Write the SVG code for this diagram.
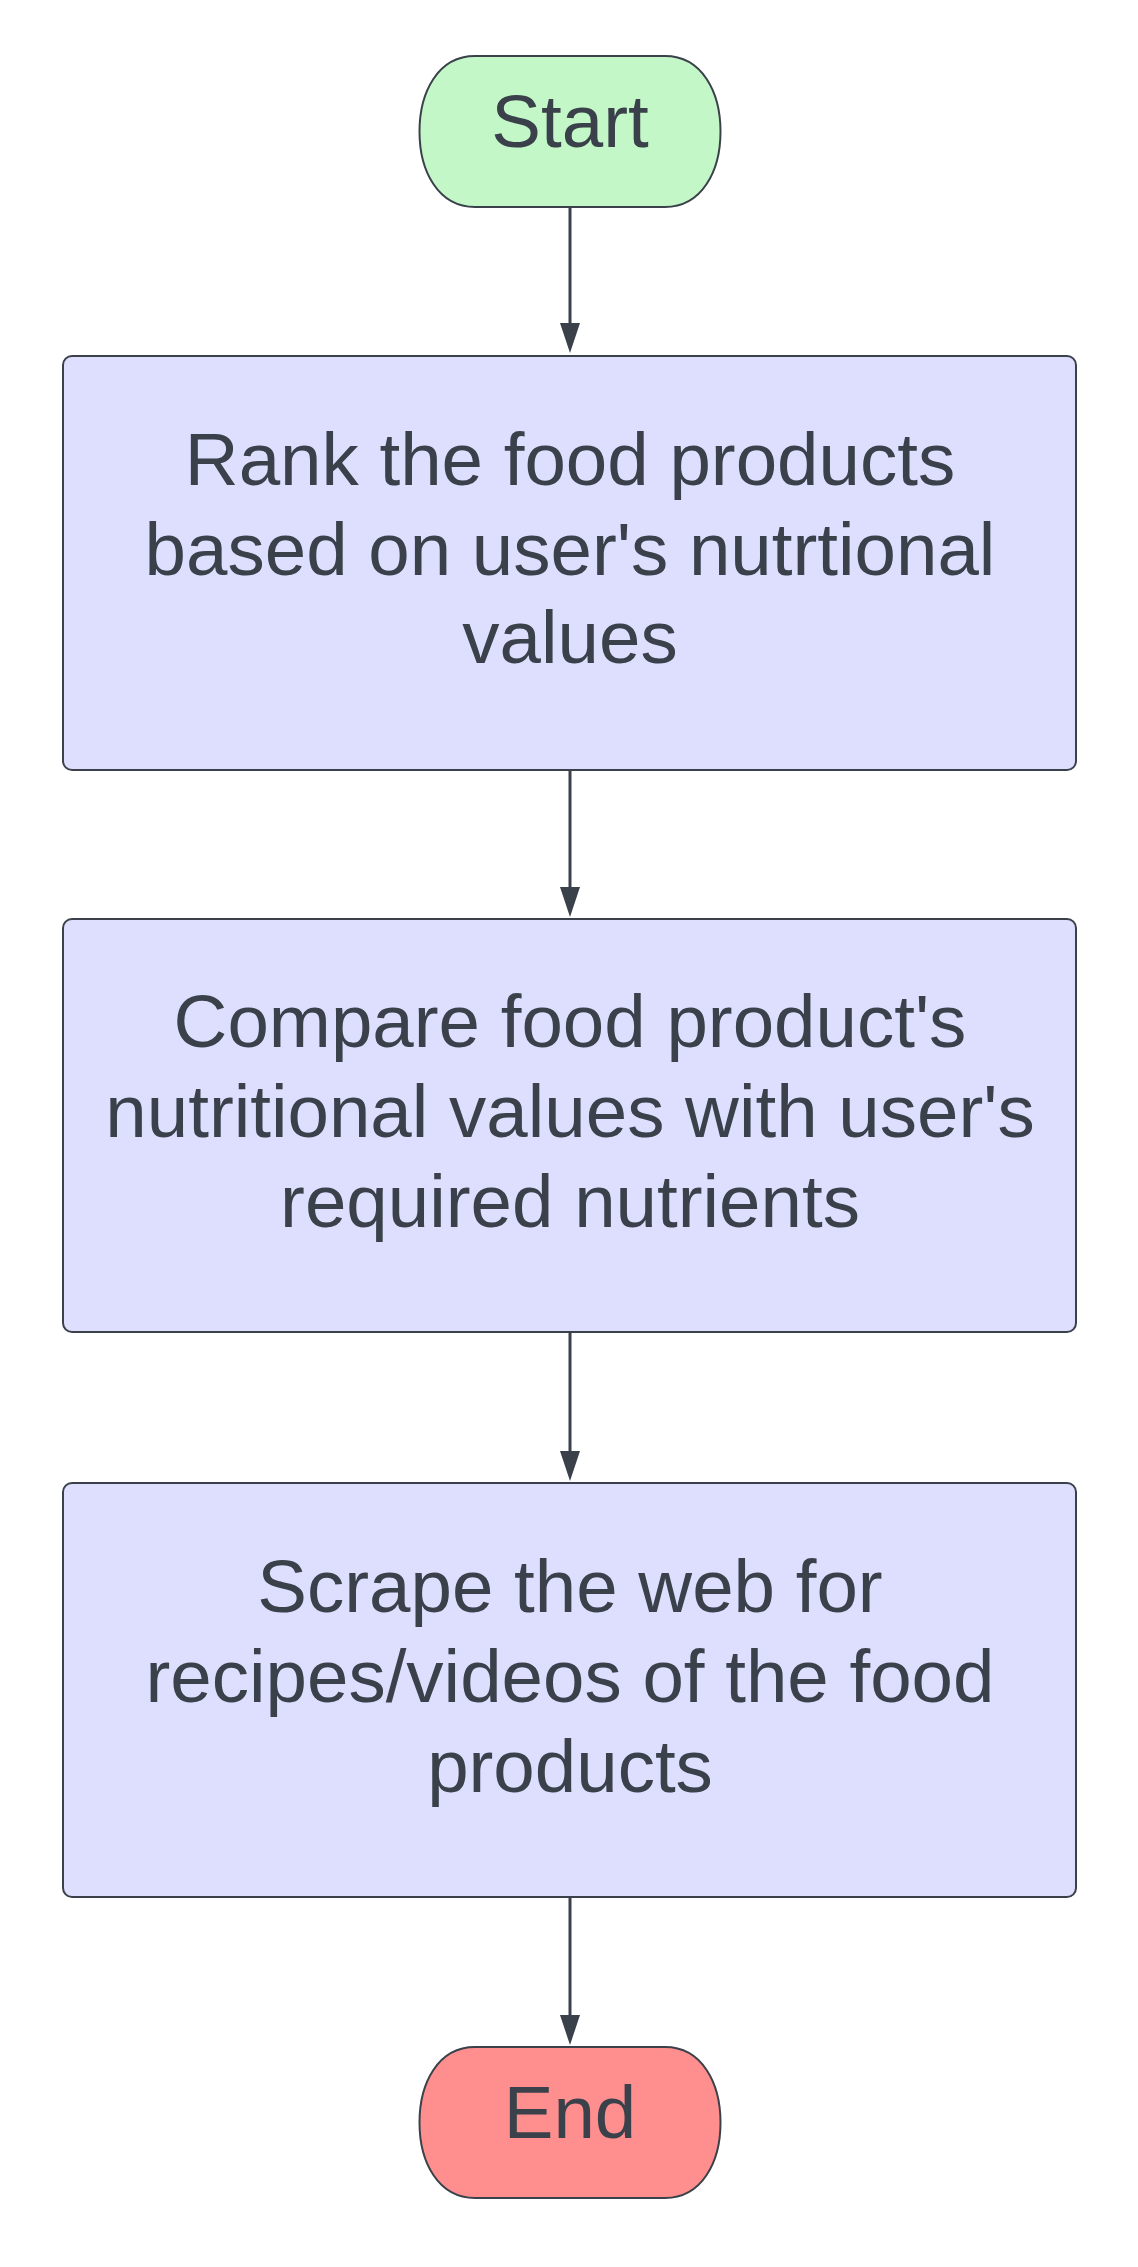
<svg xmlns="http://www.w3.org/2000/svg" width="1138" height="2267" viewBox="0 0 1138 2267">
<style>
.node{stroke:#3a414a;stroke-width:2}
.box{fill:#dedeff}
.t{font-family:"Liberation Sans",Arial,sans-serif;font-size:74.5px;fill:#3a414a;text-anchor:middle}
.edge{stroke:#3a414a;stroke-width:3;fill:none}
.head{fill:#3a414a}
</style>
<rect width="1138" height="2267" fill="#ffffff"/>
<g id="start">
<path class="node" d="M475,56 H665 C702,56 720.5,92 720.5,131.5 C720.5,171 702,207 665,207 H475 C438,207 419.5,171 419.5,131.5 C419.5,92 438,56 475,56 Z" fill="#c3f7c8"/>
<text class="t" x="570" y="147">Start</text>
</g>
<g id="rank">
<rect class="node box" x="63" y="356" width="1013" height="414" rx="9"/>
<text class="t" x="570" y="485">Rank the food products</text>
<text class="t" x="570" y="575">based on user's nutrtional</text>
<text class="t" x="570" y="663">values</text>
</g>
<g id="compare">
<rect class="node box" x="63" y="919" width="1013" height="413" rx="9"/>
<text class="t" x="570" y="1047">Compare food product's</text>
<text class="t" x="570" y="1137">nutritional values with user's</text>
<text class="t" x="570" y="1227">required nutrients</text>
</g>
<g id="scrape">
<rect class="node box" x="63" y="1483" width="1013" height="414" rx="9"/>
<text class="t" x="570" y="1612">Scrape the web for</text>
<text class="t" x="570" y="1702">recipes/videos of the food</text>
<text class="t" x="570" y="1792">products</text>
</g>
<g id="end">
<path class="node" d="M475,2047 H665 C702,2047 720.5,2083 720.5,2122.5 C720.5,2162 702,2198 665,2198 H475 C438,2198 419.5,2162 419.5,2122.5 C419.5,2083 438,2047 475,2047 Z" fill="#ff8f8f"/>
<text class="t" x="570" y="2138">End</text>
</g>
<g id="connectors">
<line class="edge" x1="570" y1="207" x2="570" y2="325"/>
<polygon class="head" points="560,323 580,323 570,353"/>
<line class="edge" x1="570" y1="770" x2="570" y2="889"/>
<polygon class="head" points="560,887 580,887 570,917"/>
<line class="edge" x1="570" y1="1332" x2="570" y2="1453"/>
<polygon class="head" points="560,1451 580,1451 570,1481"/>
<line class="edge" x1="570" y1="1897" x2="570" y2="2017"/>
<polygon class="head" points="560,2015 580,2015 570,2045"/>
</g>
</svg>
